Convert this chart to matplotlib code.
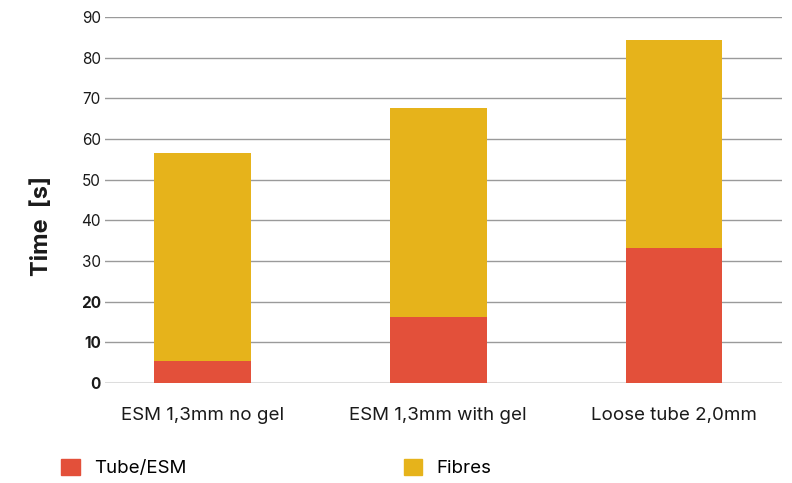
import numpy as np
import matplotlib
matplotlib.use("Agg")
import matplotlib.pyplot as plt
from matplotlib.patches import Patch

# data
categories = ["ESM 1,3mm no gel", "ESM 1,3mm with gel", "Loose tube 2,0mm"]
tube_esm = [5.5, 16.3, 33.3]
fibres = [51.0, 51.2, 51.0]
yticks = [0, 10, 20, 30, 40, 50, 60, 70, 80, 90]

red = "#E3503A"
yellow = "#E6B31B"
text_col = "#1a1a1a"

plt.rcParams["font.family"] = ["Inter", "DejaVu Sans"]

fig = plt.figure(figsize=(7.92, 4.83), dpi=100)
ax = fig.add_axes([0.1326, 0.207, 0.855, 0.758])

x = np.arange(len(categories))
ax.bar(x, tube_esm, width=0.41, color=red, zorder=3)
ax.bar(x, fibres, width=0.41, bottom=tube_esm, color=yellow, zorder=3)

ax.set_xlim(-0.415, 2.46)
ax.set_ylim(0, 90)
ax.set_yticks(yticks)
for t in yticks[1:]:
    ax.axhline(t, color="#9a9a9a", linewidth=1.0, zorder=1)
ax.axhline(0, color="#dddddd", linewidth=2.2, zorder=2)

ax.set_yticklabels([str(t) for t in yticks], fontsize=11, color=text_col)
for lab, t in zip(ax.get_yticklabels(), yticks):
    if t <= 20:
        lab.set_fontweight("bold")
ax.set_xticks(x)
ax.set_xticklabels(categories, fontsize=13.5, color=text_col)
ax.tick_params(axis="both", length=0)
ax.tick_params(axis="y", pad=3)
ax.tick_params(axis="x", pad=17)
for s in ax.spines.values():
    s.set_visible(False)

ax.set_ylabel("Time  [s]", fontsize=17, fontweight="bold", color=text_col)
ax.yaxis.set_label_coords(-0.077, 0.43)

handles = [Patch(color=red, label="Tube/ESM"), Patch(color=yellow, label="Fibres")]
fig.legend(handles=handles, loc="center left", bbox_to_anchor=(0.077, 0.031),
           ncol=2, frameon=False, fontsize=13.5, handlelength=1.0, handleheight=1.0,
           handletextpad=0.75, columnspacing=11.6, borderpad=0, borderaxespad=0)

fig.savefig("out.png", dpi=100)
